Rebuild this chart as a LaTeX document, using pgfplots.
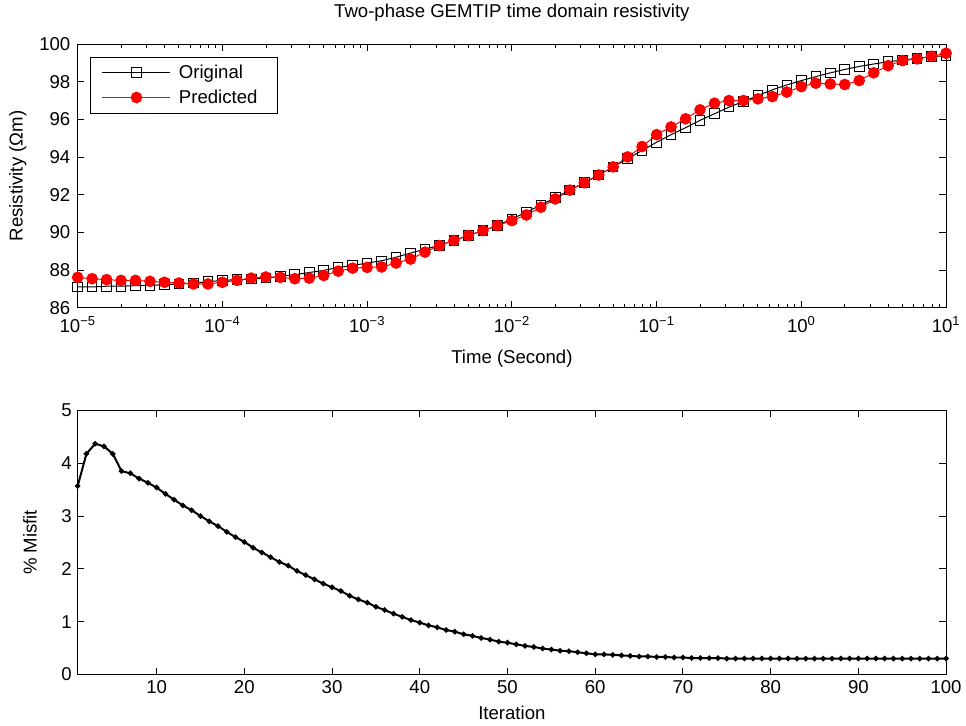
\documentclass[border=0pt]{standalone}
\usepackage{fontspec}
\setmainfont{Liberation Sans}
\usepackage{pgfplots}
\usepackage{pgfplotstable}
\pgfplotsset{compat=1.18}
\usetikzlibrary{calc}

% resistivity curves, 10 points per decade
\pgfplotstableread{
t orig pred
1e-5 87.11 87.62
1.2589e-5 87.11 87.55
1.5849e-5 87.15 87.50
1.9953e-5 87.15 87.46
2.5119e-5 87.18 87.46
3.1623e-5 87.20 87.41
3.9811e-5 87.23 87.36
5.0119e-5 87.27 87.32
6.3096e-5 87.32 87.27
7.9433e-5 87.39 87.27
1e-4 87.46 87.36
1.2589e-4 87.50 87.46
1.5849e-4 87.53 87.58
1.9953e-4 87.58 87.64
2.5119e-4 87.67 87.62
3.1623e-4 87.76 87.55
3.9811e-4 87.88 87.58
5.0119e-4 87.99 87.72
6.3096e-4 88.15 87.95
7.9433e-4 88.25 88.11
1e-3 88.38 88.15
1.2589e-3 88.50 88.17
1.5849e-3 88.69 88.38
1.9953e-3 88.91 88.59
2.5119e-3 89.12 88.96
3.1623e-3 89.31 89.31
3.9811e-3 89.58 89.58
5.0119e-3 89.84 89.84
6.3096e-3 90.10 90.10
7.9433e-3 90.37 90.37
1e-2 90.72 90.63
1.2589e-2 91.08 90.93
1.5849e-2 91.46 91.34
1.9953e-2 91.85 91.78
2.5119e-2 92.25 92.25
3.1623e-2 92.64 92.64
3.9811e-2 93.05 93.05
5.0119e-2 93.48 93.48
6.3096e-2 93.92 94.01
7.9433e-2 94.35 94.56
1e-1 94.79 95.19
1.2589e-1 95.19 95.60
1.5849e-1 95.56 96.03
1.9953e-1 95.95 96.51
2.5119e-1 96.30 96.86
3.1623e-1 96.65 97.00
3.9811e-1 96.95 97.00
5.0119e-1 97.27 97.09
6.3096e-1 97.57 97.21
7.9433e-1 97.83 97.45
1 98.06 97.74
1.2589 98.27 97.92
1.5849 98.47 97.88
1.9953 98.65 97.85
2.5119 98.81 98.06
3.1623 98.94 98.47
3.9811 99.06 98.85
5.0119 99.15 99.12
6.3096 99.24 99.21
7.9433 99.33 99.35
10 99.38 99.51
}\resdata

\pgfplotstableread{
it misfit
1 3.57
2 4.18
3 4.37
4 4.32
5 4.18
6 3.85
7 3.81
8 3.71
9 3.63
10 3.54
11 3.42
12 3.31
13 3.20
14 3.11
15 3.00
16 2.90
17 2.81
18 2.70
19 2.60
20 2.51
21 2.40
22 2.31
23 2.22
24 2.13
25 2.06
26 1.96
27 1.88
28 1.80
29 1.72
30 1.65
31 1.58
32 1.49
33 1.42
34 1.36
35 1.28
36 1.22
37 1.15
38 1.09
39 1.03
40 0.98
41 0.93
42 0.89
43 0.84
44 0.81
45 0.76
46 0.73
47 0.69
48 0.66
49 0.62
50 0.60
51 0.57
52 0.54
53 0.52
54 0.49
55 0.47
56 0.45
57 0.44
58 0.42
59 0.40
60 0.38
61 0.38
62 0.37
63 0.36
64 0.35
65 0.34
66 0.34
67 0.33
68 0.33
69 0.32
70 0.32
71 0.31
72 0.31
73 0.31
74 0.31
75 0.30
76 0.30
77 0.30
78 0.30
79 0.30
80 0.30
81 0.30
82 0.30
83 0.30
84 0.30
85 0.30
86 0.30
87 0.30
88 0.30
89 0.30
90 0.30
91 0.30
92 0.30
93 0.30
94 0.30
95 0.30
96 0.30
97 0.30
98 0.30
99 0.30
100 0.30
}\misfitdata

\begin{document}
\begin{tikzpicture}[font=\fontsize{14}{16}\selectfont]
\pgfplotsset{
  matlab/.style={
    scale only axis, width=654pt, height=198.75pt,
    tick align=inside, major tick length=5pt, minor tick length=3pt,
    axis line style={black, line width=0.7pt},
    every tick/.style={black, line width=0.7pt},
    tick label style={font=\fontsize{14}{16}\selectfont},
    label style={font=\fontsize{14}{16}\selectfont},
    /pgf/number format/assume math mode=true,
  }
}

\begin{axis}[matlab, name=top,
    xmode=log, log basis x=10,
    xmin=1e-5, xmax=10, ymin=86, ymax=100,
    ytick={86,88,...,100},
    xtick={1e-5,1e-4,1e-3,1e-2,1e-1,1,10},
    xticklabels={10\textsuperscript{−5},10\textsuperscript{−4},10\textsuperscript{−3},10\textsuperscript{−2},10\textsuperscript{−1},10\textsuperscript{0},10\textsuperscript{1}},
    xticklabel style={yshift=-3pt},
    yticklabel style={xshift=-2pt},
    minor xtick={2e-5,3e-5,4e-5,5e-5,6e-5,7e-5,8e-5,9e-5,
      2e-4,3e-4,4e-4,5e-4,6e-4,7e-4,8e-4,9e-4,
      2e-3,3e-3,4e-3,5e-3,6e-3,7e-3,8e-3,9e-3,
      2e-2,3e-2,4e-2,5e-2,6e-2,7e-2,8e-2,9e-2,
      2e-1,3e-1,4e-1,5e-1,6e-1,7e-1,8e-1,9e-1,
      2,3,4,5,6,7,8,9},
    title={Two-phase GEMTIP time domain resistivity},
    title style={at={(axis description cs:0.5,1.087)}, anchor=center, font=\fontsize{14}{16}\selectfont},
    xlabel={Time (Second)},
    ylabel={Resistivity (Ωm)},
    xlabel style={at={(axis description cs:0.5,-0.192)}, anchor=center},
    ylabel style={at={(axis description cs:-0.069,0.5)}, anchor=center},
    legend style={at={(0.0138,0.952)}, anchor=north west, draw=black, line width=0.6pt,
      font=\fontsize{14}{16}\selectfont, inner xsep=9pt, inner ysep=4pt, row sep=3pt,
      nodes={inner xsep=6pt}},
    legend cell align=left,
    legend image code/.code={\draw[mark repeat=2, mark phase=2] plot coordinates {(0cm,0cm) (0.9cm,0cm) (1.8cm,0cm)};},
]
\addplot[black, line width=0.75pt, mark=square, mark size=3.6pt, mark options={solid, line width=0.75pt}]
  table[x=t, y=orig]{\resdata};
\addlegendentry{Original}
\addplot[red, line width=0.75pt, mark=*, mark size=4pt, mark options={solid, fill=red, draw=red}]
  table[x=t, y=pred]{\resdata};
\addlegendentry{Predicted}
\end{axis}

\begin{axis}[matlab, name=bot,
    at={($(top.south west)+(0,-77.25pt)$)}, anchor=north west,
    xmin=1, xmax=100, ymin=0, ymax=5,
    xtick={10,20,...,100}, ytick={0,1,...,5},
    xticklabel style={yshift=-1pt},
    yticklabel style={xshift=-1pt},
    xlabel={Iteration},
    ylabel={\% Misfit},
    xlabel style={at={(axis description cs:0.5,-0.147)}, anchor=center},
    ylabel style={at={(axis description cs:-0.055,0.5)}, anchor=center},
]
\addplot[black, line width=1.5pt, mark=*, mark size=1.2pt] table[x=it, y=misfit]{\misfitdata};
\end{axis}

% page margins as in the reference
\path ($(top.north west)+(-58.5pt,30pt)$) rectangle ($(bot.south east)+(12pt,-38.25pt)$);
\end{tikzpicture}
\end{document}
